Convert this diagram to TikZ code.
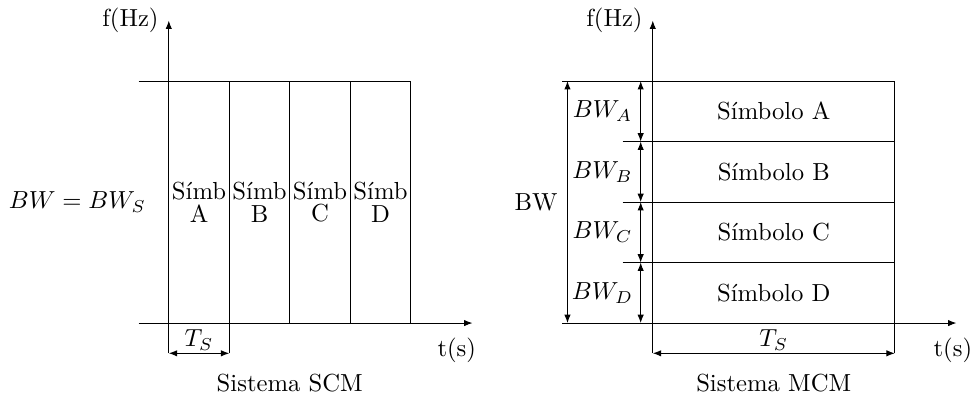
\documentclass[tikz,border=0pt]{standalone}
\usepackage{fontspec}
\usetikzlibrary{arrows.meta}
\tikzset{
  axline/.style={->,>={Latex[length=3.4pt,width=2.6pt]}},
  dimline/.style={<->,>={Latex[length=3.4pt,width=2.6pt]}},
  lbl/.style={inner sep=1pt},
}
\begin{document}
\begin{tikzpicture}[x=0.862cm,y=0.862cm]
  \useasboundingbox (-2.79,-1.21) rectangle (13.26,5.34);
  % Sistema SCM
  \draw[axline] (-0.5,0) -- (5.02,0);
  \draw[axline] (0,-0.5) -- (0,5);
  \draw (-0.5,4) -- (4,4);
  \draw (1,-0.5) -- (1,4);
  \foreach \x in {2,3,4} \draw (\x,0) -- (\x,4);
  \foreach \s [count=\i] in {A,B,C,D}
    \node[lbl,align=center] (scm\s) at (\i-0.5,2) {Símb\\[-2.8pt]\s};
  \node[lbl] (bws) at (-1.51,2) {$BW = BW_S$};
  \coordinate (tsl) at (0,-0.5);
  \coordinate (tsr) at (1,-0.5);
  \draw[dimline] (tsl) -- node[lbl,above] (tsscm) {$T_S$} (tsr);
  \node[lbl] (tscm) at (4.76,-0.45) {t(s)};
  \node[lbl,anchor=east] (fscm) at (-0.12,5) {f(Hz)};
  \node[lbl] (scm) at (2,-0.99) {Sistema SCM};
  % Sistema MCM
  \draw[axline] (6.5,0) -- (13.02,0);
  \draw[axline] (8,-0.5) -- (8,5);
  \draw (6.5,4) -- (12,4);
  \draw (12,-0.5) -- (12,4);
  \foreach \y in {1,2,3} \draw (7.5,\y) -- (12,\y);
  \coordinate (bwt) at (6.59,4);
  \coordinate (bwb) at (6.59,0);
  \draw[dimline] (bwt) -- (bwb);
  \node[lbl] (bw) at (6.07,2) {BW};
  \foreach \s [count=\i] in {A,B,C,D} {
    \coordinate (b\s t) at (7.8,5-\i);
    \coordinate (b\s b) at (7.8,4-\i);
    \draw[dimline] (b\s t) -- (b\s b);
    \node[lbl] (bw\s) at (7.17,4.5-\i) {$BW_\s$};
    \node[lbl] (sim\s) at (10,4.5-\i) {Símbolo \s};
  }
  \coordinate (tml) at (8,-0.5);
  \coordinate (tmr) at (12,-0.5);
  \draw[dimline] (tml) -- node[lbl,above] (tsmcm) {$T_S$} (tmr);
  \node[lbl] (tmcm) at (12.96,-0.45) {t(s)};
  \node[lbl,anchor=east] (fmcm) at (7.88,5) {f(Hz)};
  \node[lbl] (mcm) at (10,-1) {Sistema MCM};
\end{tikzpicture}
\end{document}
